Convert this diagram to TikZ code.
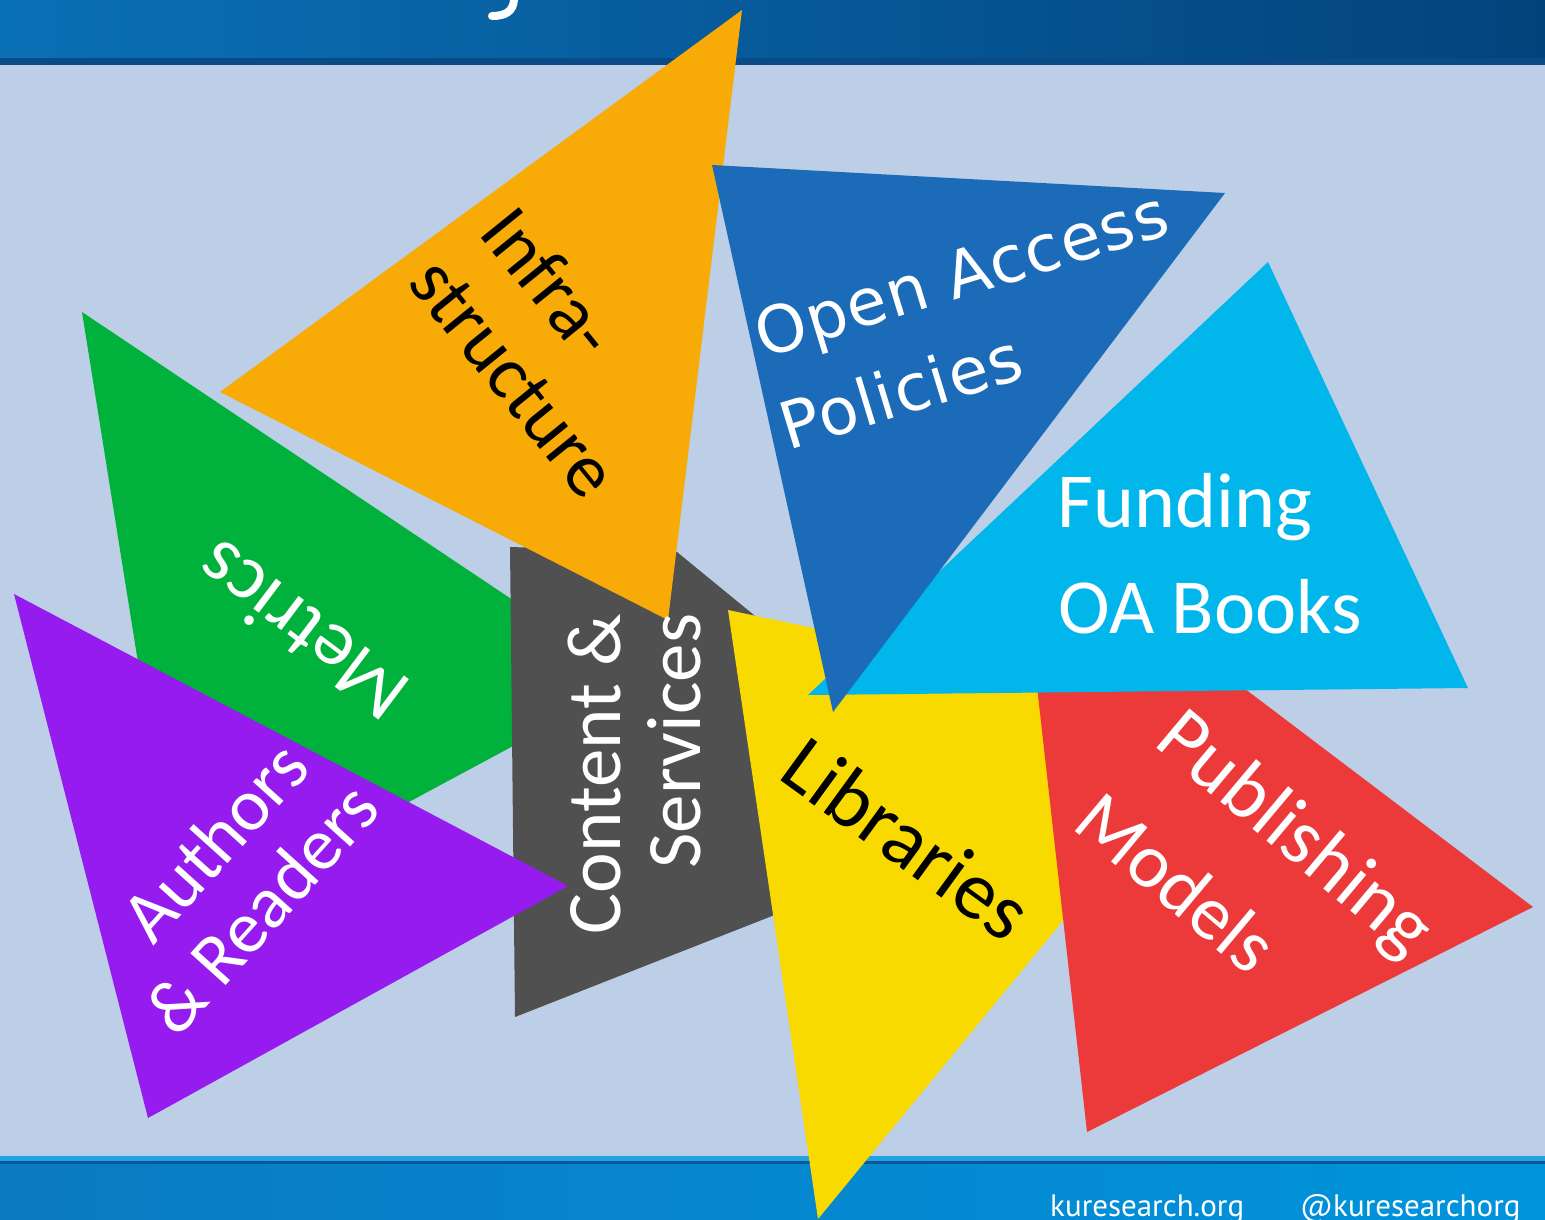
\documentclass[tikz,border=0pt]{standalone}
\usepackage{fontspec}
\setmainfont{Carlito}
\newfontfamily\oafont[LetterSpace=2]{DejaVu Sans}
\newfontfamily\footfont{PT Sans}
\definecolor{bgcol}{HTML}{BCCFE6}
\definecolor{topL}{HTML}{0A70B6}
\definecolor{topR}{HTML}{03437C}
\definecolor{topline}{HTML}{0A4A86}
\definecolor{botline}{HTML}{22A2E2}
\definecolor{botL}{HTML}{0A7AC2}
\definecolor{botR}{HTML}{0094DC}
\definecolor{orangeC}{HTML}{F8AB07}
\definecolor{blueC}{HTML}{1B6BB8}
\definecolor{cyanC}{HTML}{00B6EB}
\definecolor{greenC}{HTML}{00B13B}
\definecolor{grayC}{HTML}{505050}
\definecolor{purpleC}{HTML}{951BEF}
\definecolor{yellowC}{HTML}{F8DA00}
\definecolor{redC}{HTML}{EC3A3A}
\begin{document}
\begin{tikzpicture}[x=1pt,y=-1pt,
  lbl/.style={inner sep=0pt, anchor=base},
  wlbl/.style={lbl, text=white},
  blbl/.style={lbl, text=black},
  foot/.style={inner sep=0pt, anchor=base west, text=white, font=\footfont\fontsize{31}{34}\selectfont}]
\useasboundingbox (0,0) rectangle (1545,1219);
\clip (0,0) rectangle (1545,1219);
% background and bands
\fill[bgcol] (0,0) rectangle (1545,1219);
\shade[left color=topL, right color=topR] (0,0) rectangle (1545,60);
\fill[topline] (0,58) rectangle (1545,65);
\fill[botline] (0,1156) rectangle (1545,1161);
\fill[topline!70!botL] (0,1161) rectangle (1545,1164);
\shade[left color=botL, right color=botR] (0,1164) rectangle (1545,1219);
% fragment of the title letter
\draw[white, line width=8pt, line cap=round] (514,0) .. controls (513,11) and (506,16) .. (492,16);
% shapes
\fill[greenC] (82,312) -- (634,681) -- (180,925) -- cycle;
\fill[grayC] (510,547) -- (677,552) -- (760,620) -- (800,905) -- (515,1017) -- cycle;
\fill[orangeC] (220,392) -- (742,10) -- (668,620) -- cycle;
\fill[purpleC] (14,594) -- (568,886) -- (148,1118) -- cycle;
\fill[yellowC] (728,610) -- (1231,716) -- (818,1219) -- cycle;
\fill[redC] (1018,517) -- (1533,907) -- (1087,1132) -- cycle;
\fill[cyanC] (808,695) -- (1268,262) -- (1468,688) -- cycle;
\fill[blueC] (712,165) -- (1225,193) -- (833,712) -- cycle;
% labels
\begin{scope}[font=\fontsize{76}{80}\selectfont]
\node[blbl, rotate=-51] (infra1) at (530,298) {Infra-};
\node[blbl, rotate=-51] (infra2) at (495,393) {structure};
\node[wlbl, font=\fontsize{78}{80}\selectfont] (fund1) at (1185,527) {Funding};
\node[wlbl, font=\fontsize{78}{80}\selectfont] (fund2) at (1210,633) {OA Books};
\node[wlbl, rotate=143, font=\fontsize{79}{80}\selectfont] (metrics) at (318,610) {Metrics};
\node[wlbl, rotate=48, font=\fontsize{74}{80}\selectfont] (auth1) at (233,858) {Authors};
\node[wlbl, rotate=48, font=\fontsize{74}{80}\selectfont] (auth2) at (280,925) {\& Readers};
\node[wlbl, rotate=90, font=\fontsize{77}{80}\selectfont] (cont1) at (620,774) {Content \&};
\node[wlbl, rotate=90, font=\fontsize{77}{80}\selectfont] (cont2) at (700,741) {Services};
\node[blbl, rotate=-36, font=\fontsize{82}{86}\selectfont] (lib) at (891,861) {Libraries};
\node[wlbl, rotate=-40, font=\fontsize{80}{84}\selectfont] (pub1) at (1280,852) {Publishing};
\node[wlbl, rotate=-40, font=\fontsize{77}{84}\selectfont] (pub2) at (1160,902) {Models};
\end{scope}
\node[wlbl, rotate=17, font=\oafont\fontsize{65}{68}\selectfont] (oa1) at (968,296) {Open Access};
\node[wlbl, rotate=17, font=\oafont\fontsize{65}{68}\selectfont] (oa2) at (908,414) {Policies};
% footer
\node[foot] (web) at (1050,1216) {kuresearch.org};
\node[foot] (tw) at (1300,1216) {@kuresearchorg};
\end{tikzpicture}
\end{document}
